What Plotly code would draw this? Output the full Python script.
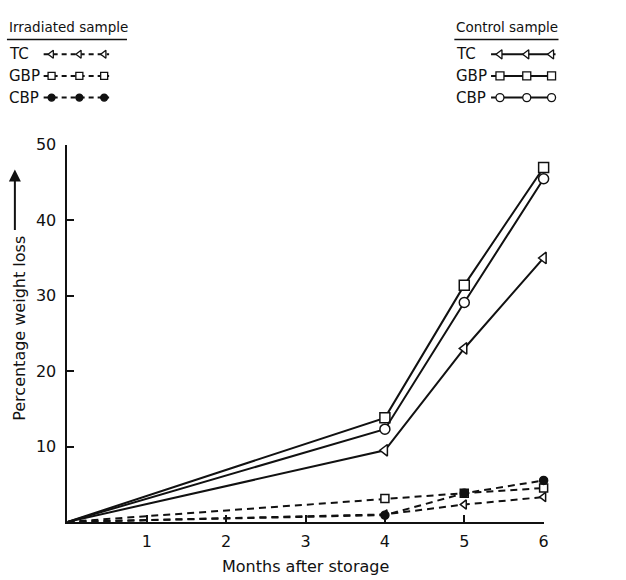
import plotly.graph_objects as go

# ---- data ----
months = [0, 4, 5, 6]
ctrl_tc = [0, 9.5, 23.0, 35.0]
ctrl_gbp = [0, 13.8, 31.4, 47.0]
ctrl_cbp = [0, 12.3, 29.1, 45.5]
irr_tc = [0, 1.0, 2.3, 3.3]
irr_gbp = [0, 3.1, 3.8, 4.5]
irr_cbp = [0, 0.9, 3.8, 5.5]
series_names = ["TC", "GBP", "CBP"]
x_ticks = [1, 2, 3, 4, 5, 6]
y_ticks = [10, 20, 30, 40, 50]

W, H = 626, 580
# plot-area pixel frame
PX0, PX1 = 68, 548
PY0, PY1 = 521, 138   # y pixel of value 0 and 50

FONT = "DejaVu Sans, sans-serif"
BLACK = "#111111"

fig = go.Figure()

def sizes(n, s):
    return [0] + [s] * (n - 1)

ctrl = [(ctrl_tc, "triangle-left", "white"), (ctrl_gbp, "square", "white"), (ctrl_cbp, "circle", "white")]
irr = [(irr_tc, "triangle-left", "white"), (irr_gbp, "square", "white"), (irr_cbp, "circle", BLACK)]

for (vals, sym, fill), name in zip(irr, series_names):
    fig.add_trace(go.Scatter(
        x=months, y=vals, mode="lines+markers", name="Irradiated " + name,
        line=dict(color=BLACK, width=2, dash="7px,5px"),
        marker=dict(symbol=sym, size=sizes(len(vals), 8), color=fill, opacity=1,
                    line=dict(color=BLACK, width=1.5)),
        showlegend=False, cliponaxis=False))

for (vals, sym, fill), name in zip(ctrl, series_names):
    fig.add_trace(go.Scatter(
        x=months, y=vals, mode="lines+markers", name="Control " + name,
        line=dict(color=BLACK, width=2),
        marker=dict(symbol=sym, size=sizes(len(vals), 10), color=fill, opacity=1,
                    line=dict(color=BLACK, width=1.5)),
        showlegend=False, cliponaxis=False))

# ---- legend keys drawn on a separate full-page pixel-space axis ----
leg_rows_y = [46, 68, 90]
left_line = (44, 110)
left_marks = [52, 80, 105]
right_line = (495, 560)
right_marks = [504, 531, 556]

for (vals, sym, fill), y in zip(irr, leg_rows_y):
    fig.add_trace(go.Scatter(
        x=list(left_line), y=[y, y], mode="lines", xaxis="x2", yaxis="y2",
        line=dict(color=BLACK, width=2, dash="5px,4px"), showlegend=False, hoverinfo="skip"))
    fig.add_trace(go.Scatter(
        x=left_marks, y=[y] * 3, mode="markers", xaxis="x2", yaxis="y2",
        marker=dict(symbol=sym, size=7, color=fill, line=dict(color=BLACK, width=1.3)),
        showlegend=False, hoverinfo="skip"))
for (vals, sym, fill), y in zip(ctrl, leg_rows_y):
    fig.add_trace(go.Scatter(
        x=list(right_line), y=[y, y], mode="lines", xaxis="x2", yaxis="y2",
        line=dict(color=BLACK, width=2), showlegend=False, hoverinfo="skip"))
    fig.add_trace(go.Scatter(
        x=right_marks, y=[y] * 3, mode="markers", xaxis="x2", yaxis="y2",
        marker=dict(symbol=sym, size=8, color=fill, line=dict(color=BLACK, width=1.3)),
        showlegend=False, hoverinfo="skip"))

annotations = []
shapes = []
for name, y in zip(series_names, leg_rows_y):
    annotations.append(dict(text=name, x=7, y=y, xref="x2", yref="y2", xanchor="left",
                            yanchor="middle", showarrow=False, font=dict(size=15, color=BLACK, family=FONT)))
    annotations.append(dict(text=name, x=458, y=y, xref="x2", yref="y2", xanchor="left",
                            yanchor="middle", showarrow=False, font=dict(size=15, color=BLACK, family=FONT)))
annotations.append(dict(text="Irradiated sample", x=7, y=18, xref="x2", yref="y2", xanchor="left",
                        yanchor="middle", showarrow=False, font=dict(size=13.5, color=BLACK, family=FONT)))
annotations.append(dict(text="Control sample", x=458, y=18, xref="x2", yref="y2", xanchor="left",
                        yanchor="middle", showarrow=False, font=dict(size=13.5, color=BLACK, family=FONT)))
shapes.append(dict(type="line", xref="x2", yref="y2", x0=7, x1=128, y0=31, y1=31,
                   line=dict(color=BLACK, width=1.5)))
shapes.append(dict(type="line", xref="x2", yref="y2", x0=458, x1=563, y0=31, y1=31,
                   line=dict(color=BLACK, width=1.5)))

# axis titles
annotations.append(dict(text="Months after storage", x=(PX0 + PX1) / 2, y=566, xref="x2", yref="y2",
                        showarrow=False, font=dict(size=16, color=BLACK, family=FONT)))
annotations.append(dict(text="Percentage weight loss", x=20, y=324, xref="x2", yref="y2",
                        textangle=-90, showarrow=False, font=dict(size=16, color=BLACK, family=FONT)))
annotations.append(dict(text="", x=15, y=163, xref="x2", yref="y2", ax=15, ay=226,
                        axref="x2", ayref="y2", showarrow=True, arrowhead=2, arrowsize=1.2,
                        arrowwidth=2, arrowcolor=BLACK))

fig.update_layout(
    width=W, height=H,
    margin=dict(l=0, r=0, t=0, b=0),
    paper_bgcolor="white", plot_bgcolor="rgba(0,0,0,0)",
    font=dict(family=FONT, color=BLACK, size=16),
    xaxis=dict(domain=[PX0 / W, PX1 / W], range=[0, 6], tickvals=x_ticks,
               showline=True, linecolor=BLACK, linewidth=2, ticks="inside", ticklen=7,
               tickwidth=1.5, tickcolor=BLACK, showgrid=False, zeroline=False,
               ticklabelstandoff=4, tickfont=dict(size=16, family=FONT)),
    yaxis=dict(domain=[(H - PY0) / H, (H - PY1) / H], range=[0, 50], tickvals=y_ticks,
               showline=True, linecolor=BLACK, linewidth=2, ticks="inside", ticklen=7,
               tickwidth=1.5, tickcolor=BLACK, showgrid=False, zeroline=False,
               ticklabelstandoff=6, tickfont=dict(size=16, family=FONT)),
    xaxis2=dict(domain=[0, 1], range=[0, W], visible=False, anchor="y2"),
    yaxis2=dict(domain=[0, 1], range=[H, 0], visible=False, anchor="x2"),
    annotations=annotations, shapes=shapes,
    showlegend=False,
)

fig.write_html("out.html")
